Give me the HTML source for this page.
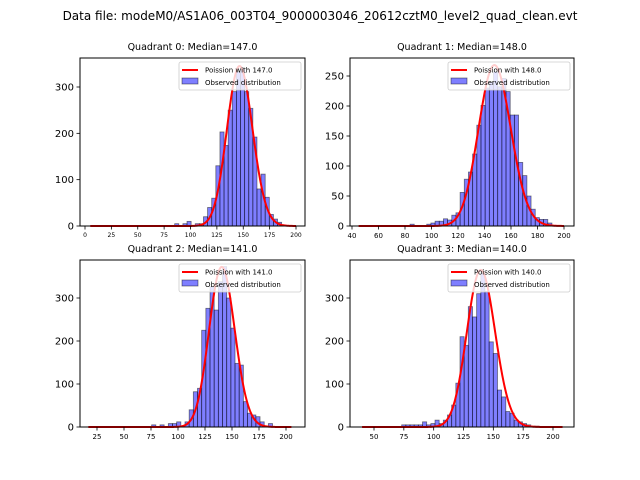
<!DOCTYPE html>
<html><head><meta charset="utf-8"><style>
body{margin:0;background:#fff;}
svg{display:block;font-family:"DejaVu Sans","Liberation Sans",sans-serif;}
</style></head><body>
<svg id="fig" width="640" height="480" viewBox="0 0 640 480">
<text x="320" y="20" text-anchor="middle" font-size="12">Data file: modeM0/AS1A06_003T04_9000003046_20612cztM0_level2_quad_clean.evt</text>
</svg>
<script>
// ---- data ----
const titles = ["Quadrant 0: Median=147.0","Quadrant 1: Median=148.0","Quadrant 2: Median=141.0","Quadrant 3: Median=140.0"];
const lambdas = [147.0, 148.0, 141.0, 140.0];
const binStart = [85, 83.8, 75.6, 73.2];
const binWidth = [3.9, 3.15, 3.86, 3.49];
const counts0 = [5,0,5,10,0,5,5,20,40,60,130,203,174,250,290,333,340,290,254,192,80,112,62,25,15,8];
const counts1 = [3,0,0,0,3,5,8,8,12,10,18,22,56,78,90,120,168,201,230,240,257,232,246,224,185,185,106,84,50,28,14,11,11,5];
const counts2 = [5,0,5,0,8,8,12,0,12,40,82,90,225,276,326,272,338,373,300,230,148,144,59,32,28,24,12,0,8];
const counts3 = [5,5,5,5,5,12,5,8,16,8,16,28,51,102,210,190,280,256,310,357,315,198,171,86,70,36,32,16,12,8,5,2,2,1];
const curvePeak = [345, 268, 372, 365];
const curveRange = [[5,200],[45,200],[17,205],[40,208]];
const xTicks0 = [0,25,50,75,100,125,150,175,200];
const xTicks1 = [40,60,80,100,120,140,160,180,200];
const xTicks2 = [25,50,75,100,125,150,175,200];
const xTicks3 = [50,75,100,125,150,175,200];
const yTicks0 = [0,100,200,300];
const yTicks1 = [0,50,100,150,200,250];
const yTicks2 = [0,100,200,300];
const yTicks3 = [0,100,200,300];
// ---- layout (pixel mapping of axes) ----
const allCounts=[counts0,counts1,counts2,counts3];
const allX=[xTicks0,xTicks1,xTicks2,xTicks3];
const allY=[yTicks0,yTicks1,yTicks2,yTicks3];
const boxes=[{l:80,r:305,t:58,b:226},{l:350,r:574,t:58,b:226},{l:80,r:305,t:260,b:427},{l:350,r:574,t:260,b:427}];
const xmap=[{v0:0,p0:85,v1:200,p1:296},{v0:40,p0:352,v1:200,p1:564},{v0:25,p0:97,v1:200,p1:286},{v0:50,p0:374,v1:200,p1:553}];
const ymap=[{v1:300,p1:87},{v1:250,p1:76},{v1:300,p1:298},{v1:300,p1:298}];
const xFont=[6,7,7,7];
const NS="http://www.w3.org/2000/svg";
const svg=document.getElementById('fig');
function mk(tag,attrs,parent){const e=document.createElementNS(NS,tag);for(const k in attrs)e.setAttribute(k,attrs[k]);(parent||svg).appendChild(e);return e;}
function lgamma(z){const c=[76.18009172947146,-86.50532032941677,24.01409824083091,-1.231739572450155,0.1208650973866179e-2,-0.5395239384953e-5];let x=z,y=z,t=x+5.5;t-=(x+0.5)*Math.log(t);let s=1.000000000190015;for(let j=0;j<6;j++)s+=c[j]/++y;return -t+Math.log(2.5066282746310005*s/x);}
function logpmf(k,l){return k*Math.log(l)-l-lgamma(k+1);}
for(let q=0;q<4;q++){
  const B=boxes[q],XM=xmap[q],YM=ymap[q];
  const X=v=>XM.p0+(v-XM.v0)*(XM.p1-XM.p0)/(XM.v1-XM.v0);
  const Y=v=>B.b-v*(B.b-YM.p1)/YM.v1;
  const g=mk('g',{});
  
  
  const tt=mk('text',{x:(B.l+B.r)/2,y:B.t-8,'text-anchor':'middle','font-size':'9.5'},g);
  tt.textContent=titles[q];
  
  
  // bars
  const cs=allCounts[q];
  for(let i=0;i<cs.length;i++){
    if(cs[i]<=0)continue;
    const a=binStart[q]+i*binWidth[q],b=a+binWidth[q];
    const r=mk('rect',{x:X(a),y:Y(cs[i]),width:X(b)-X(a),height:Y(0)-Y(cs[i]),fill:'rgba(0,0,255,0.5)',stroke:'rgba(0,0,0,0.5)','stroke-width':'0.8'},g);
    
    
  }
  // poisson curve
  const lam=lambdas[q],lp=logpmf(lam,lam);let d='';
  for(let k=curveRange[q][0];k<=curveRange[q][1];k+=0.5){
    const v=curvePeak[q]*Math.exp(logpmf(k,lam)-lp);
    d+=(d?'L':'M')+X(k).toFixed(2)+','+Y(v).toFixed(2);
  }
  const p=mk('path',{d:d,fill:'none',stroke:'#ff0000','stroke-width':'2'},g);
  
  
  // frame
  const fr=mk('rect',{x:B.l,y:B.t,width:B.r-B.l,height:B.b-B.t,fill:'none',stroke:'#000','stroke-width':'1'},g);
  
  
  // x ticks
  for(const v of allX[q]){
    const x=X(v);
    mk('line',{x1:x,x2:x,y1:B.b,y2:B.b+3.5,stroke:'#000','stroke-width':'0.8'},g);
    const t=mk('text',{x:x,y:B.b+5+xFont[q],'text-anchor':'middle','font-size':xFont[q]},g);
    t.textContent=v;
    
    
  }
  for(const v of allY[q]){
    const y=Y(v);
    mk('line',{x1:B.l-3.5,x2:B.l,y1:y,y2:y,stroke:'#000','stroke-width':'0.8'},g);
    const t=mk('text',{x:B.l-6,y:y+3.5,'text-anchor':'end','font-size':'10'},g);
    t.textContent=v;
    
    
  }
  // legend
  const lx=B.r-126,ly=B.t+4;
  const lg=mk('g',{},g);
  
  
  mk('rect',{x:lx,y:ly,width:122,height:28,fill:'rgba(255,255,255,0.8)',stroke:'#ccc','stroke-width':'0.8',rx:'2'},lg);
  mk('line',{x1:lx+3,x2:lx+19,y1:ly+8,y2:ly+8,stroke:'#ff0000','stroke-width':'2'},lg);
  const t1=mk('text',{x:lx+26,y:ly+10.5,'font-size':'7'},lg);t1.textContent='Poission with '+lambdas[q].toFixed(1);
  
  
  mk('rect',{x:lx+3,y:ly+16,width:16,height:6,fill:'rgba(0,0,255,0.5)',stroke:'rgba(0,0,0,0.5)','stroke-width':'0.8'},lg);
  const t2=mk('text',{x:lx+26,y:ly+23,'font-size':'7'},lg);t2.textContent='Observed distribution';
  
  
}
</script>
</body></html>
